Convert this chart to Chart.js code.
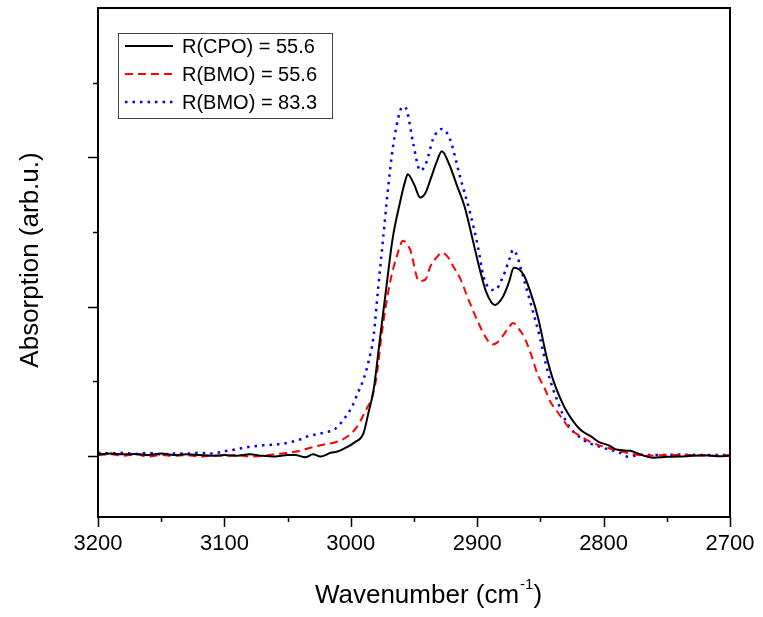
<!DOCTYPE html>
<html>
<head>
<meta charset="utf-8">
<script src="https://cdn.jsdelivr.net/npm/chart.js@4"></script>
<style>
  html, body { margin: 0; padding: 0; background: #fff; }
  canvas { display: block; }
</style>
</head>
<body>
<canvas id="chart" width="763" height="617"></canvas>
<script>
// Wavenumber (cm-1) / absorption pairs
const cpoWave = [3200, 3190, 3180, 3170, 3160, 3150, 3140, 3130, 3120, 3110, 3100, 3090, 3080, 3070, 3060, 3050, 3044, 3036, 3030, 3024, 3016, 3010, 3005, 2997, 2990, 2986, 2982, 2977, 2972, 2967, 2961, 2957, 2955, 2950, 2945, 2941, 2937, 2932, 2928, 2922, 2916, 2910, 2905, 2898, 2893, 2886, 2880, 2875, 2871, 2867, 2863, 2858, 2852, 2845, 2840, 2834, 2829, 2819, 2810, 2804, 2796, 2789, 2779, 2774, 2768, 2761, 2750, 2740, 2730, 2720, 2710, 2700];
const cpoAbs = [0.01, 0.015, 0.01, 0.012, 0.005, 0.015, 0.005, 0.01, 0.005, 0.0, 0.005, 0.0, 0.01, 0.0, -0.005, 0.005, 0.005, -0.01, 0.01, -0.005, 0.02, 0.03, 0.05, 0.09, 0.15, 0.29, 0.44, 0.78, 1.12, 1.45, 1.70, 1.84, 1.886, 1.82, 1.73, 1.76, 1.85, 1.97, 2.04, 1.95, 1.81, 1.67, 1.50, 1.25, 1.10, 1.01, 1.06, 1.16, 1.26, 1.25, 1.21, 1.10, 0.93, 0.66, 0.51, 0.38, 0.295, 0.18, 0.13, 0.094, 0.07, 0.04, 0.034, 0.02, 0.0, -0.013, -0.007, -0.005, 0.0, 0.003, -0.003, 0.0];

const bmo1Wave = [3200, 3190, 3180, 3170, 3160, 3150, 3140, 3130, 3120, 3110, 3100, 3090, 3080, 3070, 3060, 3050, 3044, 3032, 3022, 3011, 3003, 2995, 2989, 2983, 2980, 2975, 2969, 2963.5, 2958.7, 2953, 2946, 2941, 2937, 2932, 2928, 2923, 2919, 2913, 2908, 2899, 2893, 2888, 2884, 2880, 2875, 2871.7, 2867, 2862, 2857, 2852.7, 2846, 2842, 2837, 2832, 2826.6, 2818, 2810.8, 2797, 2781.5, 2765.7, 2750, 2730, 2715, 2700];
const bmo1Abs = [0.005, 0.01, 0.0, 0.01, -0.005, 0.005, 0.0, 0.005, -0.005, 0.0, 0.0, 0.005, -0.005, 0.0, 0.01, 0.02, 0.027, 0.054, 0.074, 0.094, 0.128, 0.195, 0.29, 0.40, 0.51, 0.85, 1.16, 1.34, 1.44, 1.38, 1.17, 1.18, 1.27, 1.33, 1.36, 1.33, 1.27, 1.18, 1.07, 0.89, 0.79, 0.745, 0.76, 0.80, 0.86, 0.89, 0.85, 0.78, 0.67, 0.557, 0.44, 0.36, 0.30, 0.24, 0.18, 0.13, 0.094, 0.054, 0.02, 0.0, 0.005, 0.005, 0.0, 0.005];

const bmo2Wave = [3200, 3190, 3180, 3170, 3160, 3150, 3140, 3130, 3120, 3110, 3100, 3090, 3080, 3070, 3060, 3050, 3040, 3035, 3022, 3012.5, 3004.6, 2999, 2994, 2990, 2986, 2982, 2978.5, 2974.5, 2970.6, 2966.6, 2961, 2958, 2955.5, 2950.8, 2945, 2940, 2935, 2928, 2921.5, 2913.6, 2905.7, 2899.4, 2895, 2890, 2886, 2879.6, 2874, 2871.7, 2868, 2866, 2858, 2850, 2844, 2836, 2829, 2816, 2800.5, 2787, 2780.7, 2771, 2760, 2740, 2720, 2700];
const bmo2Abs = [0.02, 0.015, 0.02, 0.012, 0.02, 0.01, 0.015, 0.015, 0.02, 0.015, 0.03, 0.045, 0.06, 0.07, 0.075, 0.087, 0.11, 0.128, 0.154, 0.18, 0.255, 0.33, 0.43, 0.51, 0.63, 0.80, 1.11, 1.45, 1.785, 2.07, 2.31, 2.34, 2.31, 2.10, 1.91, 1.97, 2.12, 2.19, 2.12, 1.87, 1.63, 1.40, 1.20, 1.12, 1.11, 1.20, 1.33, 1.38, 1.33, 1.27, 1.03, 0.78, 0.557, 0.356, 0.22, 0.107, 0.054, 0.02, -0.007, 0.007, 0.005, 0.008, 0.005, 0.005];

const seriesLabels = ["R(CPO) = 55.6", "R(BMO) = 55.6", "R(BMO) = 83.3"];
const xMajorTicks = [3200, 3100, 3000, 2900, 2800, 2700];
const xMinorTicks = [3150, 3050, 2950, 2850, 2750];
const yMajorTicks = [0, 1, 2];
const yMinorTicks = [0.5, 1.5, 2.5];

const FONT = "'Liberation Sans', Arial, sans-serif";

function pts(xs, ys) {
  return xs.map((x, i) => ({ x: x, y: ys[i] }));
}

// Frame, outward major/minor ticks, titles and the boxed legend
const framePlugin = {
  id: "frame",
  afterDatasetsDraw(chart) {
    const { ctx, chartArea: { left, right, top, bottom }, scales: { x, y } } = chart;
    ctx.save();
    ctx.strokeStyle = "#000";
    ctx.lineWidth = 2;
    ctx.setLineDash([]);
    ctx.strokeRect(left, top, right - left, bottom - top);

    ctx.lineWidth = 1.5;
    ctx.beginPath();
    xMajorTicks.forEach((v) => {
      const px = Math.round(x.getPixelForValue(v)) + 0.5;
      ctx.moveTo(px, bottom); ctx.lineTo(px, bottom + 10);
    });
    xMinorTicks.forEach((v) => {
      const px = Math.round(x.getPixelForValue(v)) + 0.5;
      ctx.moveTo(px, bottom); ctx.lineTo(px, bottom + 5);
    });
    yMajorTicks.forEach((v) => {
      const py = Math.round(y.getPixelForValue(v)) + 0.5;
      ctx.moveTo(left, py); ctx.lineTo(left - 10, py);
    });
    yMinorTicks.forEach((v) => {
      const py = Math.round(y.getPixelForValue(v)) + 0.5;
      ctx.moveTo(left, py); ctx.lineTo(left - 5, py);
    });
    ctx.stroke();

    // axis titles
    ctx.fillStyle = "#000";
    ctx.font = "26px " + FONT;
    ctx.save();
    ctx.translate(38, 260);
    ctx.rotate(-Math.PI / 2);
    ctx.textAlign = "center";
    ctx.textBaseline = "alphabetic";
    ctx.fillText("Absorption (arb.u.)", 0, 0);
    ctx.restore();

    const main = "Wavenumber (cm";
    ctx.font = "26px " + FONT;
    const w1 = ctx.measureText(main).width;
    ctx.font = "15px " + FONT;
    const w2 = ctx.measureText("-1").width;
    ctx.font = "26px " + FONT;
    const w3 = ctx.measureText(")").width;
    let tx = 428 - (w1 + w2 + w3) / 2;
    ctx.textAlign = "left";
    ctx.textBaseline = "alphabetic";
    ctx.fillText(main, tx, 603);
    ctx.font = "15px " + FONT;
    ctx.fillText("-1", tx + w1 + 1, 589);
    ctx.font = "26px " + FONT;
    ctx.fillText(")", tx + w1 + w2 + 1, 603);

    // legend
    const lx = left + 20, ly = top + 25;
    ctx.strokeStyle = "#444";
    ctx.lineWidth = 1;
    ctx.strokeRect(lx + 0.5, ly + 0.5, 214, 85);
    ctx.font = "20px " + FONT;
    ctx.textBaseline = "middle";
    chart.data.datasets.forEach((ds, i) => {
      const yy = ly + 13 + i * 28;
      ctx.strokeStyle = ds.borderColor;
      ctx.lineWidth = ds.borderWidth;
      ctx.setLineDash(ds.borderDash || []);
      ctx.beginPath();
      ctx.moveTo(lx + 7, yy);
      ctx.lineTo(lx + 55, yy);
      ctx.stroke();
      ctx.setLineDash([]);
      ctx.fillStyle = "#000";
      ctx.fillText(ds.label, lx + 64, yy + 1);
    });
    ctx.restore();
  },
};

new Chart(document.getElementById("chart"), {
  type: "line",
  data: {
    datasets: [
      {
        label: seriesLabels[0],
        data: pts(cpoWave, cpoAbs),
        borderColor: "#000000",
        borderWidth: 2,
      },
      {
        label: seriesLabels[1],
        data: pts(bmo1Wave, bmo1Abs),
        borderColor: "#ff0000",
        borderWidth: 2,
        borderDash: [8, 5],
      },
      {
        label: seriesLabels[2],
        data: pts(bmo2Wave, bmo2Abs),
        borderColor: "#0000ff",
        borderWidth: 2.5,
        borderDash: [2.5, 5],
      },
    ],
  },
  options: {
    responsive: false,
    animation: false,
    layout: { padding: { top: 8, right: 33, left: 0, bottom: 0 } },
    elements: {
      point: { radius: 0 },
      line: { tension: 0.4, cubicInterpolationMode: "monotone", fill: false },
    },
    plugins: { legend: { display: false }, tooltip: { enabled: false } },
    scales: {
      x: {
        type: "linear",
        reverse: true,
        min: 2700,
        max: 3200,
        afterFit: (s) => { s.height = 100; s.paddingLeft = 0; s.paddingRight = 0; },
        grid: { display: false, drawTicks: false },
        border: { display: false },
        ticks: {
          stepSize: 100,
          padding: 14,
          maxRotation: 0,
          color: "#000",
          font: { size: 22, family: FONT },
          callback: (v) => String(v),
        },
      },
      y: {
        type: "linear",
        min: -0.41,
        max: 3.0,
        afterFit: (s) => { s.width = 98; s.paddingTop = 0; s.paddingBottom = 0; },
        grid: { display: false, drawTicks: false },
        border: { display: false },
        ticks: { display: false },
      },
    },
  },
  plugins: [framePlugin],
});
</script>
</body>
</html>
